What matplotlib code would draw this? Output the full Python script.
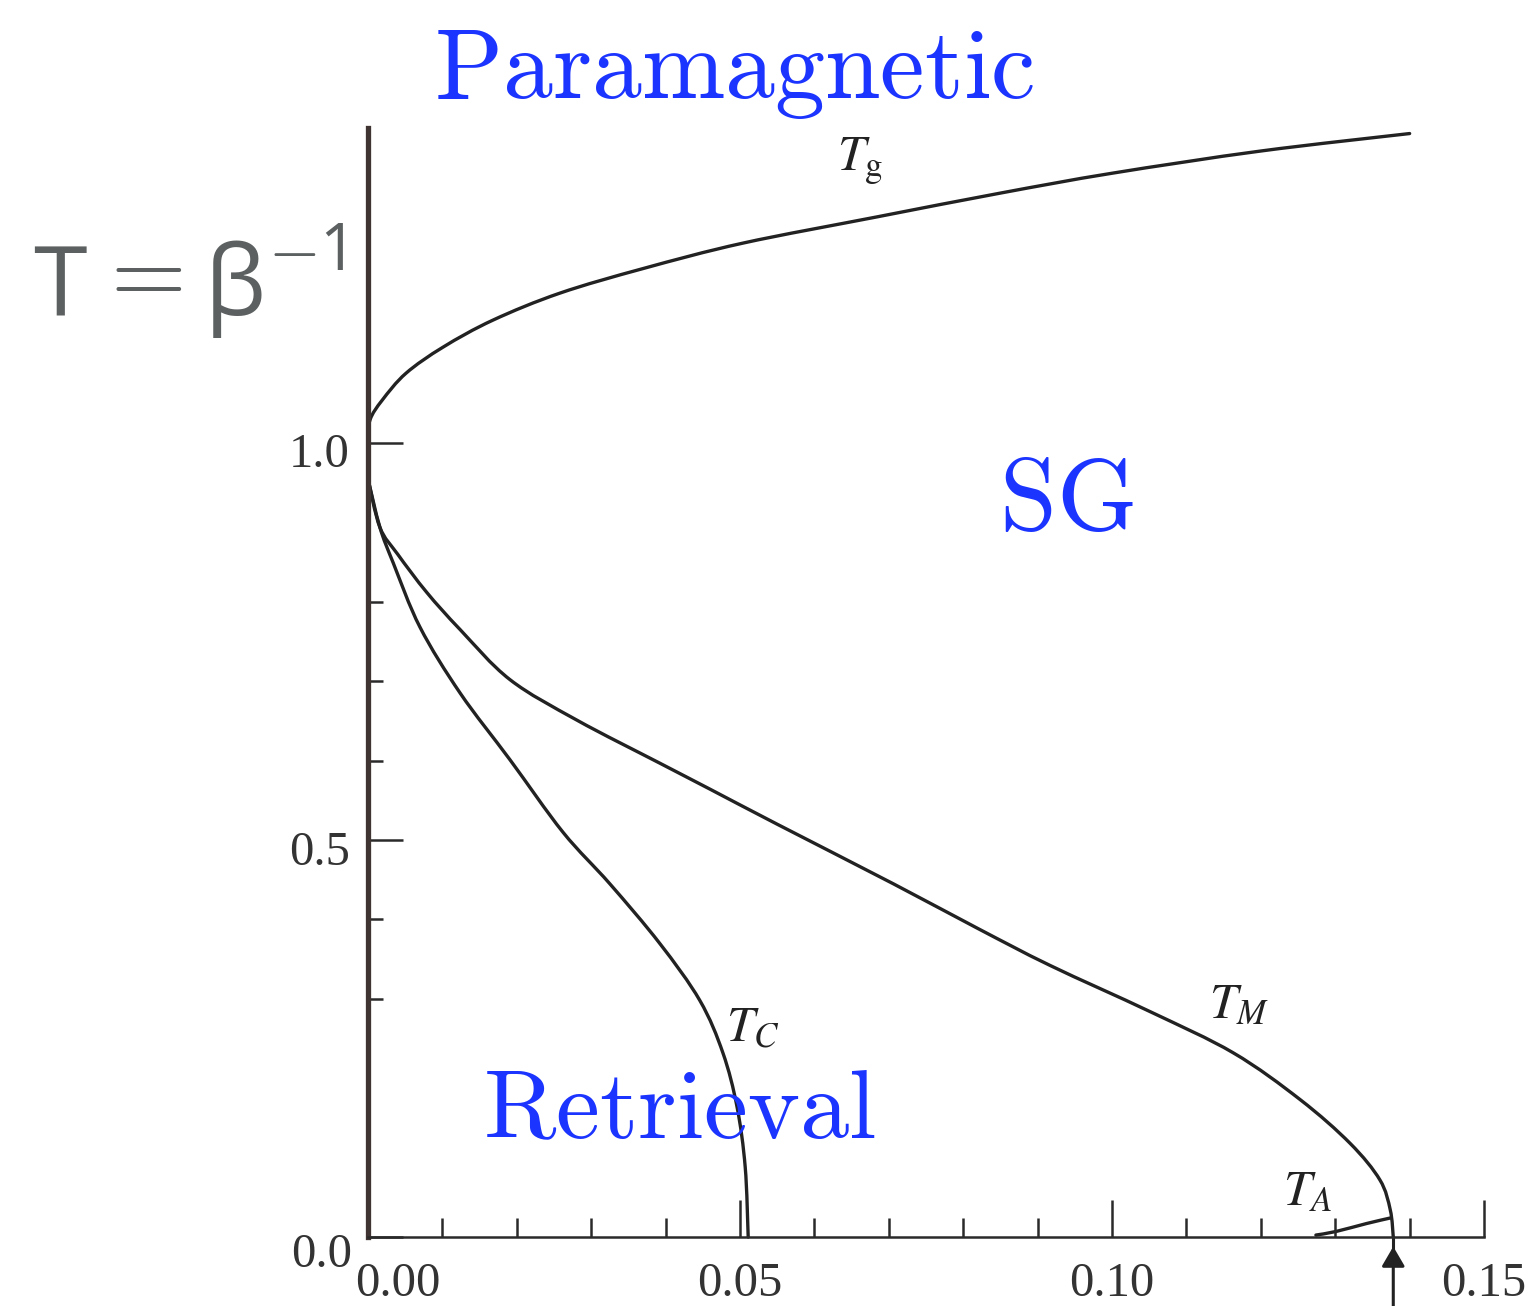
import numpy as np
import matplotlib
matplotlib.use("Agg")
import matplotlib.pyplot as plt
from matplotlib.ticker import MultipleLocator, FixedLocator
from matplotlib.transforms import ScaledTranslation
from matplotlib.path import Path
from matplotlib.patches import PathPatch

# ---- curve data (alpha, T) ----
tg_alpha = [0.0, 0.0003, 0.0019, 0.0051, 0.0101, 0.0168, 0.0258, 0.037,
            0.0504, 0.0684, 0.085, 0.10, 0.12, 0.14]
tg_T = [1.005, 1.03, 1.054, 1.088, 1.121, 1.155, 1.189, 1.220,
        1.252, 1.285, 1.315, 1.340, 1.368, 1.390]

tm_alpha = [0.0, 0.0016, 0.0040, 0.0079, 0.0124, 0.0191, 0.0281, 0.0392,
            0.046, 0.055, 0.0706, 0.0819, 0.0917, 0.1051, 0.1163, 0.1253,
            0.132, 0.136, 0.1374, 0.1378]
tm_T = [0.955, 0.894, 0.860, 0.812, 0.765, 0.702, 0.651, 0.597,
        0.564, 0.520, 0.445, 0.389, 0.342, 0.284, 0.232, 0.173,
        0.118, 0.072, 0.034, 0.0]

tc_alpha = [0.0, 0.0016, 0.0034, 0.007, 0.0124, 0.0191, 0.0262, 0.0325,
            0.0392, 0.0446, 0.0477, 0.0496, 0.0507, 0.0511]
tc_T = [0.955, 0.894, 0.849, 0.768, 0.685, 0.601, 0.510, 0.445,
        0.370, 0.298, 0.232, 0.164, 0.088, 0.0]

ta_alpha = [0.1274, 0.1301, 0.1342, 0.1374]
ta_T = [0.0025, 0.007, 0.017, 0.024]

alpha_c = 0.1378   # storage capacity marked by the arrow

x_major = [0.0, 0.05, 0.10, 0.15]
x_labels = ["0.00", "0.05", "0.10", "0.15"]
y_major = [0.0, 0.5, 1.0]
y_labels = ["0.0", "0.5", "1.0"]
y_minor = [0.3, 0.4, 0.6, 0.7, 0.8]

curve_labels = [
    (r"$T_{\mathrm{g}}$", 0.0630, 1.344),
    (r"$T_{C}$", 0.0481, 0.247),
    (r"$T_{M}$", 0.1130, 0.276),
    (r"$T_{A}$", 0.1230, 0.040),
]

BLUE = "#1c34ff"
INK = "#222222"
GREY = "#5c6060"

fig = plt.figure(figsize=(15.32, 13.06), dpi=100)
ax = fig.add_axes([0.2402, 0.0528, 0.7285, 0.8492])
ax.set_xlim(0, 0.15)
ax.set_ylim(0, 1.397)


def smooth_curve(xs, ys):
    # Catmull-Rom through the read points, drawn as cubic Bezier segments
    sx = 1.0 / 0.15
    sy = 1.0 / 1.397 * (0.8492 * 13.06) / (0.7285 * 15.32)
    P = np.column_stack([np.asarray(xs) * sx, np.asarray(ys) * sy])
    verts = [P[0]]
    codes = [Path.MOVETO]
    n = len(P)
    for i in range(n - 1):
        p0 = P[i - 1] if i > 0 else P[i]
        p1, p2 = P[i], P[i + 1]
        p3 = P[i + 2] if i + 2 < n else P[i + 1]
        verts += [p1 + (p2 - p0) / 6.0, p2 - (p3 - p1) / 6.0, p2]
        codes += [Path.CURVE4] * 3
    V = np.array(verts)
    V[:, 0] /= sx
    V[:, 1] /= sy
    return Path(V, codes)


for xs, ys in [(tg_alpha, tg_T), (tm_alpha, tm_T), (tc_alpha, tc_T), (ta_alpha, ta_T)]:
    ax.add_patch(PathPatch(smooth_curve(xs, ys), fill=False, edgecolor=INK,
                           lw=2.4, capstyle="round", clip_on=False))

# arrow at alpha_c
ax.annotate("", xy=(alpha_c, -0.012), xytext=(alpha_c, -0.095),
            xycoords="data", annotation_clip=False,
            arrowprops=dict(arrowstyle="-|>,head_length=0.6,head_width=0.35",
                            mutation_scale=20, color=INK, lw=2.2,
                            shrinkA=0, shrinkB=0))
ax.plot([alpha_c, alpha_c], [-0.015, 0.0], color=INK, lw=2.2, clip_on=False)

# spines
for s in ["top", "right"]:
    ax.spines[s].set_visible(False)
ax.spines["left"].set_linewidth(3.8)
ax.spines["left"].set_color("#3f3431")
ax.spines["bottom"].set_linewidth(1.8)
ax.spines["bottom"].set_color("#2a2a2a")

# ticks
ax.set_xticks(x_major, labels=x_labels)
ax.xaxis.set_minor_locator(MultipleLocator(0.01))
ax.set_yticks(y_major, labels=y_labels)
ax.yaxis.set_minor_locator(FixedLocator(y_minor))
ax.tick_params(axis="x", which="major", direction="in", length=27, width=1.8,
               color="#2a2a2a", pad=18)
ax.tick_params(axis="x", which="minor", direction="in", length=14, width=1.8,
               color="#2a2a2a")
ax.tick_params(axis="y", which="major", direction="in", length=25, width=1.8,
               color="#2a2a2a", pad=13)
ax.tick_params(axis="y", which="minor", direction="in", length=11, width=1.8,
               color="#2a2a2a")
for lab in ax.get_xticklabels() + ax.get_yticklabels():
    lab.set_fontfamily("Liberation Serif")
    lab.set_fontsize(35)
    lab.set_color("#333333")

# nudge labels the way they sit in the scan
xl = ax.get_xticklabels()
xl[0].set_transform(xl[0].get_transform() + ScaledTranslation(0.30, 0, fig.dpi_scale_trans))
yl = ax.get_yticklabels()
yl[0].set_transform(yl[0].get_transform() + ScaledTranslation(0.02, -0.13, fig.dpi_scale_trans))
yl[1].set_transform(yl[1].get_transform() + ScaledTranslation(0, -0.08, fig.dpi_scale_trans))
yl[2].set_transform(yl[2].get_transform() + ScaledTranslation(0, -0.07, fig.dpi_scale_trans))

# curve names
for txt, x, y in curve_labels:
    ax.text(x, y, txt, fontsize=36, color=INK, math_fontfamily="stix",
            ha="left", va="baseline")

# region names
fig.text(0.283, 0.925, r"$\mathrm{Paramagnetic}$", fontsize=72, color=BLUE,
         math_fontfamily="cm", ha="left", va="baseline")
fig.text(0.652, 0.594, r"$\mathrm{SG}$", fontsize=74, color=BLUE,
         math_fontfamily="cm", ha="left", va="baseline")
fig.text(0.315, 0.1286, r"$\mathrm{Retrieval}$", fontsize=71, color=BLUE,
         math_fontfamily="cm", ha="left", va="baseline")

# axis name  T = beta^-1, assembled piece by piece
W, H = 1532.0, 1306.0
fig.text(33 / W, 1 - 315 / H, "T", fontsize=70, color=GREY,
         fontfamily="Open Sans", ha="left", va="baseline")
fig.text(93 / W, 1 - 302 / H, r"$=$", fontsize=70, color=GREY,
         math_fontfamily="cm", ha="left", va="baseline")
fig.text(205 / W, 1 - 315 / H, "β", fontsize=70, color=GREY,
         fontfamily="Open Sans", ha="left", va="baseline")
fig.text(268 / W, 1 - 269 / H, r"$-$", fontsize=48, color=GREY,
         math_fontfamily="cm", ha="left", va="baseline")
fig.text(319 / W, 1 - 270 / H, "1", fontsize=47, color=GREY,
         fontfamily="Open Sans", ha="left", va="baseline")

fig.savefig("out.png", dpi=100, facecolor="white")
